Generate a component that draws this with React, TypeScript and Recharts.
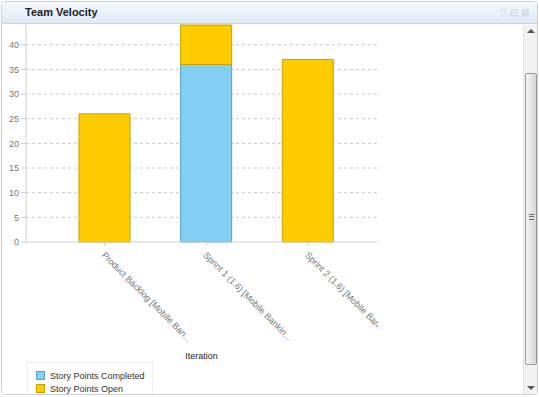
import React from 'react';
import { BarChart, Bar, XAxis, YAxis, CartesianGrid, Legend, Label } from 'recharts';

const iterations = [
  'Product Backlog [Mobile Ban...',
  'Sprint 1 (1.6) [Mobile Bankin...',
  'Sprint 2 (1.6) [Mobile Banking]',
];
const pointsCompleted = [0, 36, 0];
const pointsOpen = [26, 8, 37];
const yTicks = [0, 5, 10, 15, 20, 25, 30, 35, 40];

const data = iterations.map((name, i) => ({
  name,
  completed: pointsCompleted[i],
  open: pointsOpen[i],
}));

const FONT = 'Arial, "Liberation Sans", sans-serif';
const BLUE = '#83cff4';
const YELLOW = '#ffcc00';

const IterationTick = ({ x, y, payload }: any) => (
  <text
    x={x - 2}
    y={y + 6}
    transform={`rotate(45, ${x - 2}, ${y + 6})`}
    textAnchor="start"
    dominantBaseline="middle"
    fontSize={9}
    fontFamily={FONT}
    fill="#777"
  >
    {payload.value}
  </text>
);

const LegendBox = () => (
  <div
    style={{
      width: 126,
      height: 40,
      border: '1px solid #eee',
      boxSizing: 'border-box',
      padding: '6px 0 0 8px',
      fontFamily: FONT,
      fontSize: 9,
      color: '#333',
      background: '#fff',
    }}
  >
    {[
      { label: 'Story Points Completed', color: BLUE, stroke: '#5b9fc6' },
      { label: 'Story Points Open', color: YELLOW, stroke: '#c9a000' },
    ].map((item) => (
      <div key={item.label} style={{ display: 'flex', alignItems: 'center', height: 13 }}>
        <span
          style={{
            display: 'inline-block',
            width: 9,
            height: 9,
            background: item.color,
            border: `1px solid ${item.stroke}`,
            boxSizing: 'border-box',
            marginRight: 5,
          }}
        />
        {item.label}
      </div>
    ))}
  </div>
);

const Scrollbar = () => (
  <div
    style={{
      position: 'absolute',
      left: 521,
      top: 23,
      width: 14,
      height: 370,
      background: '#f1f1f1',
      borderLeft: '1px solid #e4e4e4',
    }}
  >
    <div style={{ position: 'absolute', top: 4, left: 3, width: 0, height: 0, borderLeft: '4px solid transparent', borderRight: '4px solid transparent', borderBottom: '4px solid #555' }} />
    <div
      style={{
        position: 'absolute',
        top: 48,
        left: 1,
        width: 12,
        height: 292,
        boxSizing: 'border-box',
        border: '1px solid #9a9a9a',
        borderRadius: 2,
        background: 'linear-gradient(to right, #f3f3f3, #d6d6d6)',
      }}
    >
      <div style={{ position: 'absolute', top: 140, left: 3, width: 5, height: 6, borderTop: '1px solid #666', borderBottom: '1px solid #666', boxSizing: 'border-box' }} />
      <div style={{ position: 'absolute', top: 142, left: 3, width: 5, height: 1, background: '#666' }} />
    </div>
    <div style={{ position: 'absolute', bottom: 5, left: 3, width: 0, height: 0, borderLeft: '4px solid transparent', borderRight: '4px solid transparent', borderTop: '4px solid #555' }} />
  </div>
);

export default function App() {
  return (
    <div style={{ position: 'fixed', left: 0, top: 0, width: 539, height: 397, background: '#fff', overflow: 'hidden' }}>
      <div
        style={{
          position: 'absolute',
          left: 1,
          top: 1,
          width: 537,
          height: 394,
          boxSizing: 'border-box',
          border: '1px solid #c9d2da',
          borderRadius: 4,
          overflow: 'hidden',
          background: '#fff',
        }}
      >
        <div
          style={{
            position: 'absolute',
            left: 0,
            top: 0,
            right: 0,
            height: 21,
            background: 'linear-gradient(to bottom, #f6f9fd, #dde9f5)',
            borderBottom: '1px solid #c4d5e6',
            fontFamily: FONT,
            fontSize: 11,
            fontWeight: 'bold',
            color: '#222',
            lineHeight: '21px',
            paddingLeft: 23,
          }}
        >
          Team Velocity
          <span style={{ position: 'absolute', right: 8, top: 0, color: '#c8d3de', fontWeight: 'normal', fontSize: 10 }}>
            ▽ ⊟ ⊠
          </span>
        </div>
        <div style={{ position: 'absolute', left: -2, top: -2 }}>
          <BarChart
            width={378}
            height={397}
            data={data}
            margin={{ top: 25, right: 1, left: 6, bottom: 35 }}
            barSize={51}
          >
            <CartesianGrid
              vertical={false}
              horizontalValues={yTicks.slice(1)}
              stroke="#c8c8c8"
              strokeDasharray="3 3"
            />
            <XAxis
              dataKey="name"
              height={120}
              interval={0}
              padding={{ left: 28, right: 18 }}
              stroke="#cfcfcf"
              tickSize={4}
              tick={<IterationTick />}
            >
              <Label value="Iteration" position="insideBottom" offset={3} fontSize={9} fontFamily={FONT} fill="#222" />
            </XAxis>
            <YAxis
              width={20}
              domain={[0, 44]}
              ticks={yTicks}
              interval={0}
              stroke="#cfcfcf"
              tickSize={5}
              tickMargin={2}
              tick={{ fontSize: 9, fontFamily: FONT, fill: '#777' }}
            />
            <Legend
              layout="vertical"
              align="center"
              verticalAlign="middle"
              wrapperStyle={{ left: 27, top: 362, width: 126 }}
              content={<LegendBox />}
            />
            <Bar dataKey="completed" stackId="a" fill={BLUE} stroke="#5b9fc6" isAnimationActive={false} />
            <Bar dataKey="open" stackId="a" fill={YELLOW} stroke="#c9a000" isAnimationActive={false} />
          </BarChart>
        </div>
        <Scrollbar />
      </div>
    </div>
  );
}
